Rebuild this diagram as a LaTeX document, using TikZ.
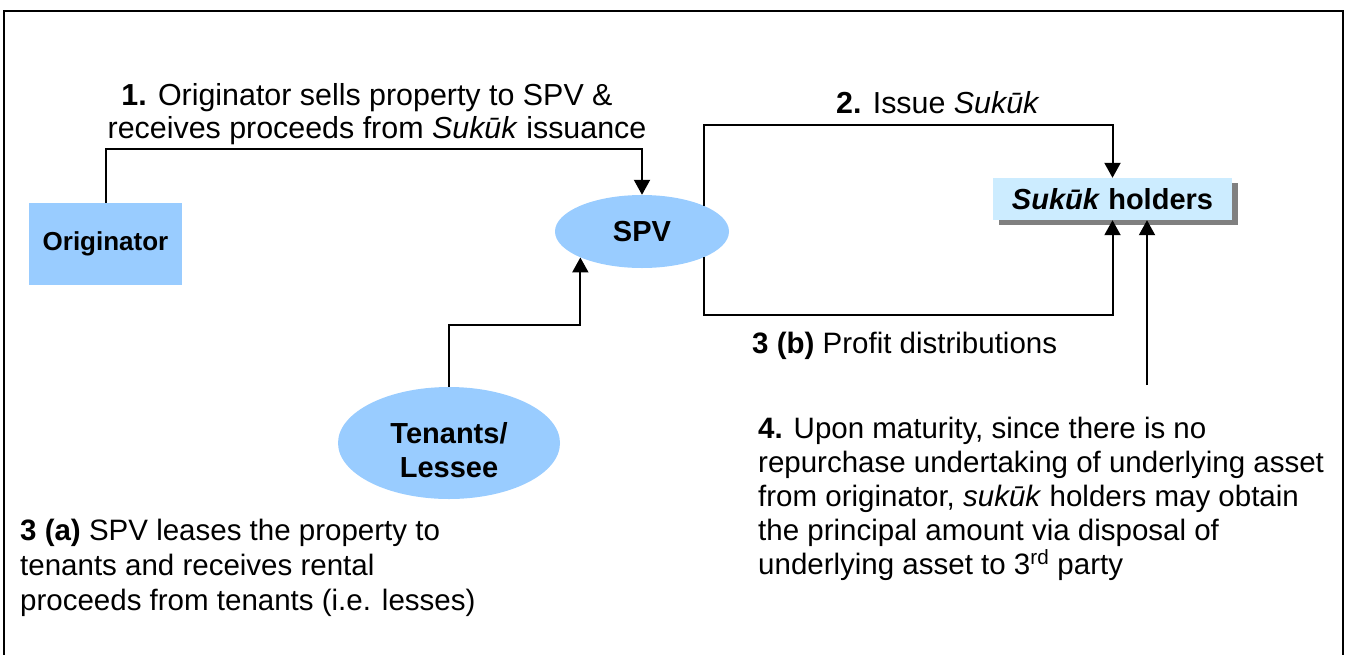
\documentclass[tikz,border=0pt]{standalone}
\usepackage{fontspec}
\setmainfont{Liberation Sans}
\usetikzlibrary{arrows.meta,shapes.geometric,shadows}
\definecolor{nodeblue}{HTML}{99CCFF}
\definecolor{paleblue}{HTML}{CCECFF}
\definecolor{shadowgray}{HTML}{808080}
\begin{document}
\begin{tikzpicture}[x=1pt,y=-1pt,
  arr/.style={line width=2pt,-{Triangle[length=15pt,width=16pt]}},
  frame/.style={line width=2.5pt},
  body/.style={font=\fontsize{29.5}{34}\selectfont, inner sep=0pt, align=left, anchor=base west},
  bodyc/.style={font=\fontsize{30.4}{33}\selectfont, inner sep=0pt, align=center, anchor=base},
  bluebox/.style={fill=nodeblue, draw=none, inner sep=0pt, font=\bfseries\fontsize{26}{30}\selectfont},
  blueell/.style={ellipse, fill=nodeblue, draw=none, inner sep=0pt, font=\bfseries\fontsize{29}{34}\selectfont, align=center},
  palebox/.style={fill=paleblue, draw=none, inner sep=0pt, font=\bfseries\fontsize{29}{33}\selectfont,
    drop shadow={shadow xshift=6pt, shadow yshift=-5pt, fill=shadowgray, opacity=1}}
]
\useasboundingbox (0,0) rectangle (1351,654);
\draw[frame] (4,700) -- (4,11) -- (1343,11) -- (1343,700);

% nodes
\node[bluebox, minimum width=153pt, minimum height=82pt] (orig) at (105.5,244) {Originator};
\node[blueell, minimum width=174pt, minimum height=73pt] (spv) at (642,231.5) {SPV};
\node[palebox, minimum width=239pt, minimum height=42pt] (suk) at (1112.5,199) {\textit{Sukūk} holders};
\node[blueell, minimum width=222pt, minimum height=112pt] (ten) at (449,443) {\rule{0pt}{36pt}Tenants/\\Lessee};

% text labels (base anchor = baseline of last line)
\node[bodyc] (t1) at (377,138) {\textbf{1.} Originator sells property to SPV \&\hspace*{20pt}\\receives proceeds from \textit{Sukūk} issuance};
\node[body, font=\fontsize{30.4}{34}\selectfont] (t2) at (836,113) {\textbf{2.} Issue \textit{Sukūk}};
\node[body] (t3b) at (752,353) {\textbf{3 (b)} Profit distributions};
\node[body] (t4) at (758,574) {\textbf{4.} Upon maturity, since there is no\\repurchase undertaking of underlying asset\\from originator, \textit{sukūk} holders may obtain\\the principal amount via disposal of\\underlying asset to 3\textsuperscript{rd} party};
\node[body, font=\fontsize{29.5}{35}\selectfont] (t3a) at (20,610) {\textbf{3 (a)} SPV leases the property to\\tenants and receives rental\\proceeds from tenants (i.e. lesses)};

% connectors
\coordinate (k1) at (0,149);
\coordinate (k2) at (0,125);
\coordinate (k3) at (0,315);
\coordinate (k4) at (0,325);
\coordinate (c4) at (1147,385);
\draw[arr] (orig.north) |- (k1 -| spv.north) -- (spv.north);
\draw[arr] (spv.north east) |- (k2 -| suk.north) -- (suk.north);
\draw[arr] (spv.south east) |- (k3 -| suk.south) -- (suk.south);
\draw[arr] (ten.north) |- (k4 -| spv.south west) -- (spv.south west);
\draw[arr] (c4) -- (c4 |- suk.south);
\end{tikzpicture}
\end{document}
